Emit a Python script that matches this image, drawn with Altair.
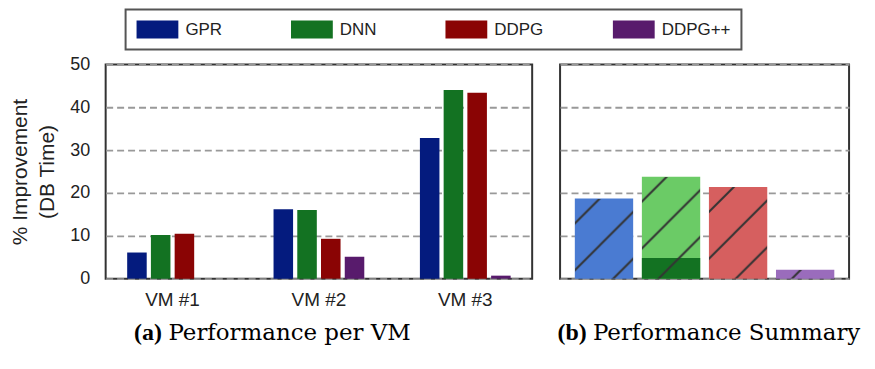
import urllib.parse
import altair as alt
import pandas as pd

# ---------------- data ----------------
vms = ["VM #1", "VM #2", "VM #3"]
methods = ["GPR", "DNN", "DDPG", "DDPG++"]
gpr = [6.1, 16.2, 32.8]
dnn = [10.2, 16.0, 44.0]
ddpg = [10.5, 9.3, 43.4]
ddpgpp = [0.0, 5.1, 0.7]

summary = [18.7, 23.8, 21.4, 2.1]
dnn_best = [4.8]

dark_colors = ["#041b7e", "#137222", "#8a0404", "#581b6c"]
muted_colors = ["#4a7bd2", "#6bcb66", "#d65f5f", "#9a6cbc"]
dark_green = "#137222"

series = {"GPR": gpr, "DNN": dnn, "DDPG": ddpg, "DDPG++": ddpgpp}
rows = []
for m in methods:
    for vm, v in zip(vms, series[m]):
        rows.append({"vm": vm, "method": m, "value": v})
df_vm = pd.DataFrame(rows)
df_sum = pd.DataFrame({"method": methods, "value": summary})
df_best = pd.DataFrame({"method": ["DNN"], "value": dnn_best})

hatch_svg = (
    "<svg xmlns='http://www.w3.org/2000/svg' width='100%' height='100%'>"
    "<defs><pattern id='h' x='25' width='47' height='47' patternUnits='userSpaceOnUse'>"
    "<path d='M-6,6 L6,-6 M0,47 L47,0 M41,53 L53,41' stroke='#333' stroke-width='2'/>"
    "</pattern></defs><rect width='100%' height='100%' fill='url(#h)'/></svg>"
)
hatch_uri = "data:image/svg+xml;charset=utf-8," + urllib.parse.quote(hatch_svg)

SANS = "Liberation Sans"
SERIF = "DejaVu Serif"
SERIF_B = "Liberation Serif"
TXT = "#222222"

# ---------------- left panel ----------------
left = alt.Chart(df_vm).mark_bar().encode(
    x=alt.X(
        "vm:N", sort=vms,
        scale=alt.Scale(paddingInner=0.38, paddingOuter=0.147),
        axis=alt.Axis(
            labelAngle=0, labelFontSize=19, labelPadding=12, labelFont=SANS, labelColor=TXT,
            grid=False, title="(a)", titleFont=SERIF_B, titleFontSize=24, titleFontWeight="bold",
            titleX=28, titleY=61, titleAlign="left", titleBaseline="alphabetic",
            titleAngle=0, titleColor="black",
        ),
    ),
    xOffset=alt.XOffset("method:N", sort=methods,
                        scale=alt.Scale(paddingInner=0.177, paddingOuter=0)),
    y=alt.Y(
        "value:Q", scale=alt.Scale(domain=[0, 50], nice=False),
        axis=alt.Axis(
            values=[0, 10, 20, 30, 40, 50], grid=True, labelFontSize=18, labelPadding=16,
            labelFont=SANS, labelColor=TXT,
            title=["% Improvement", "(DB Time)"], titleFont=SANS, titleFontSize=21,
            titleFontWeight="normal", titleLineHeight=27, titlePadding=12, titleColor=TXT,
        ),
    ),
    color=alt.Color(
        "method:N", sort=methods,
        scale=alt.Scale(domain=methods, range=dark_colors),
        legend=alt.Legend(
            title=None, orient="none", legendX=20, legendY=-55, direction="horizontal",
            columns=4, symbolType="M-1,-1H3.66V1H-1Z", symbolSize=324,
            symbolStrokeWidth=0, labelFont=SANS, labelFontSize=17, labelOffset=31,
            labelColor=TXT, columnPadding=69, padding=11, strokeColor="#555555",
            fillColor="white",
        ),
    ),
).properties(
    width=428, height=215,
    title=alt.TitleParams(
        "Performance per VM", orient="bottom", anchor="start", frame="group",
        dx=63, dy=-4, offset=0, font=SERIF, fontSize=23, fontWeight="normal",
        color="black", baseline="alphabetic",
    ),
)

# ---------------- right panel ----------------
x_right = alt.X(
    "method:N", sort=methods,
    scale=alt.Scale(domain=methods, paddingInner=0.13, paddingOuter=0.22),
    axis=alt.Axis(
        labels=False, grid=False, title="(b)", titleFont=SERIF_B, titleFontSize=24,
        titleFontWeight="bold", titleX=-3, titleY=61, titleAlign="left",
        titleBaseline="alphabetic", titleAngle=0, titleColor="black",
    ),
)
y_right = alt.Y(
    "value:Q", scale=alt.Scale(domain=[0, 50], nice=False),
    axis=alt.Axis(values=[0, 10, 20, 30, 40, 50], grid=True, labels=False, title=None),
)

bars_r = alt.Chart(df_sum).mark_bar().encode(
    x=x_right, y=y_right,
    fill=alt.Fill("method:N", sort=methods,
                  scale=alt.Scale(domain=methods, range=muted_colors), legend=None),
)
best_r = alt.Chart(df_best).mark_bar(color=dark_green).encode(x=x_right, y=y_right)
hatch_r = alt.Chart(df_sum).mark_image(aspect=False).encode(
    x=x_right, y=y_right, y2=alt.datum(0), url=alt.value(hatch_uri)
)

right = alt.layer(bars_r, best_r, hatch_r).properties(
    width=290, height=215,
    title=alt.TitleParams(
        "Performance Summary", orient="bottom", anchor="start", frame="group",
        dx=33, dy=-4, offset=0, font=SERIF, fontSize=23, fontWeight="normal",
        color="black", baseline="alphabetic",
    ),
)

chart = (
    alt.hconcat(left, right, spacing=23)
    .resolve_scale(color="shared", fill="independent")
    .resolve_legend(color="shared")
    .properties(padding={"left": 0, "top": 0, "right": 5, "bottom": 5})
    .configure_view(stroke="#333333", strokeWidth=2)
    .configure_axis(domain=False, ticks=False, gridColor="#999999",
                    gridDash=[7, 4], gridWidth=1.8)
    .configure_legend(strokeWidth=2)
)

chart.save("out.html", embed_options={"renderer": "svg", "actions": False})
